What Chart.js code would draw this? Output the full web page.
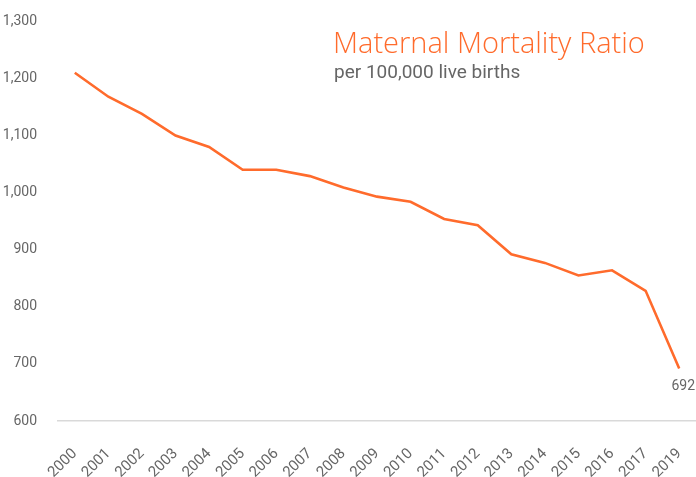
<!DOCTYPE html>
<html>
<head>
<meta charset="utf-8">
<script src="https://cdn.jsdelivr.net/npm/chart.js@4"></script>
<style>
  html, body { margin: 0; padding: 0; background: #fff; }
  #wrap { position: relative; width: 696px; height: 477px; }
</style>
</head>
<body>
<div id="wrap"><canvas id="mmr-chart"></canvas></div>
<script>
const years = ['2000', '2001', '2002', '2003', '2004', '2005', '2006', '2007', '2008', '2009',
    '2010', '2011', '2012', '2013', '2014', '2015', '2016', '2017', '2019'];
const ratio = [1210, 1168, 1138, 1100, 1080, 1040, 1040, 1029, 1009, 993,
    984, 954, 943, 892, 877, 855, 864, 828, 692];
const yTicks = [600, 700, 800, 900, 1000, 1100, 1200, 1300];

const ORANGE = '#ff6b2c';
const GREY = '#666666';
const AXIS_FONT = 'Roboto, sans-serif';
const TITLE_FONT = '"Open Sans", sans-serif';

// title, subtitle and the last value label
const textPlugin = {
    id: 'mmrText',
    afterDatasetsDraw(chart) {
        const ctx = chart.ctx;
        ctx.save();
        ctx.textBaseline = 'alphabetic';
        ctx.textAlign = 'left';
        ctx.fillStyle = ORANGE;
        ctx.font = '300 29px ' + TITLE_FONT;
        ctx.fillText('Maternal Mortality Ratio', 333, 53);
        ctx.fillStyle = GREY;
        ctx.font = '19px ' + AXIS_FONT;
        ctx.fillText('per 100,000 live births', 334, 78);

        const meta = chart.getDatasetMeta(0);
        const last = meta.data[meta.data.length - 1];
        ctx.font = '14px ' + AXIS_FONT;
        ctx.textAlign = 'center';
        ctx.textBaseline = 'middle';
        ctx.fillText(String(ratio[ratio.length - 1]), last.x + 4, last.y + 18);
        ctx.restore();
    }
};

const data = {
    labels: years,
    datasets: [{
        label: 'Maternal Mortality Ratio',
        data: ratio,
        borderColor: ORANGE,
        borderWidth: 2.6,
        pointRadius: 0,
        tension: 0,
        fill: false
    }]
};

const config = {
    type: 'line',
    data: data,
    options: {
        responsive: true,
        maintainAspectRatio: false,
        animation: false,
        layout: { padding: { top: 12, right: 0, left: 0, bottom: 0 } },
        plugins: {
            legend: { display: false },
            tooltip: { enabled: false }
        },
        scales: {
            x: {
                offset: true,
                grid: { display: false },
                border: { display: true, color: '#d9d9d9', width: 1.5 },
                afterFit: axis => { axis.paddingLeft = 0; axis.paddingRight = 0; axis.height = 56; },
                ticks: {
                    color: GREY,
                    font: { family: AXIS_FONT, size: 15 },
                    minRotation: 45,
                    maxRotation: 45,
                    padding: 16,
                    autoSkip: false
                }
            },
            y: {
                min: 600,
                max: 1300,
                afterBuildTicks: axis => { axis.ticks = yTicks.map(v => ({ value: v })); },
                afterFit: axis => { axis.width = 58; },
                grid: { display: false },
                border: { display: false },
                ticks: {
                    color: GREY,
                    font: { family: AXIS_FONT, size: 14 },
                    padding: 13,
                    callback: v => v.toLocaleString('en-US')
                }
            }
        }
    },
    plugins: [textPlugin]
};

const myChart = new Chart(document.getElementById('mmr-chart'), config);
</script>
</body>
</html>
